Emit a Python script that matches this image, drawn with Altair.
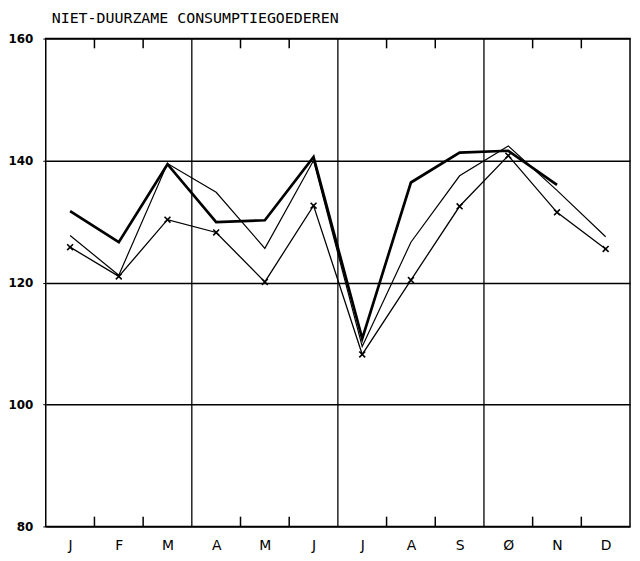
import altair as alt
import pandas as pd

months = ["J", "F", "M", "A", "M", "J", "J", "A", "S", "Ø", "N", "D"]
thick_vals = [131.7, 126.6, 139.4, 129.9, 130.2, 140.6, 110.8, 136.4, 141.3, 141.6, 136.0, None]
thin_vals = [127.7, 121.2, 139.5, 134.8, 125.6, 140.0, 109.5, 126.6, 137.5, 142.4, 135.1, 127.5]
cross_vals = [125.8, 121.0, 130.3, 128.2, 120.1, 132.6, 108.2, 120.4, 132.5, 140.8, 131.5, 125.5]
y_ticks = [80, 100, 120, 140, 160]
minor_bounds = [0.5, 1.5, 3.5, 4.5, 6.5, 7.5, 9.5, 10.5]
quarter_bounds = [2.5, 5.5, 8.5]

W, H = 588, 491

def frame(vals):
    return pd.DataFrame([{"i": k, "v": v} for k, v in enumerate(vals) if v is not None])

label_expr = "[" + ",".join("'" + m + "'" for m in months) + "][datum.value]"

X = alt.X("i:Q",
          scale=alt.Scale(domain=[-0.5, 11.5], nice=False, zero=False),
          axis=alt.Axis(values=list(range(12)), labelExpr=label_expr, title=None,
                        grid=False, domain=False, ticks=False, labelFontSize=14,
                        labelFont="DejaVu Sans", labelColor="black", labelPadding=12))
Y = alt.Y("v:Q",
          scale=alt.Scale(domain=[80, 160], nice=False, zero=False),
          axis=alt.Axis(values=y_ticks, title=None, grid=True, gridColor="black",
                        gridWidth=1.5, gridOpacity=1, domain=False, ticks=True,
                        tickSize=3, tickColor="black", labelFontSize=12,
                        labelFontWeight="bold", labelFont="DejaVu Sans",
                        labelColor="black", labelPadding=10))

thick = alt.Chart(frame(thick_vals)).mark_line(color="black", strokeWidth=2.7).encode(x=X, y=Y)
thin = alt.Chart(frame(thin_vals)).mark_line(color="black", strokeWidth=1.2).encode(x=X, y=Y)
cross_line = alt.Chart(frame(cross_vals)).mark_line(color="black", strokeWidth=1.3).encode(x=X, y=Y)
cross_pts = alt.Chart(frame(cross_vals)).mark_point(
    shape="M-1,-1L1,1M-1,1L1,-1", filled=False, color="black", strokeWidth=1.6, size=35, opacity=1
).encode(x=X, y=Y)

minor_df = pd.DataFrame({"i": minor_bounds})
top_ticks = alt.Chart(minor_df).mark_rule(color="black", strokeWidth=1.5).encode(
    x=X, y=alt.datum(160), y2=alt.datum(158.4))
bot_ticks = alt.Chart(minor_df).mark_rule(color="black", strokeWidth=1.5).encode(
    x=X, y=alt.datum(80), y2=alt.datum(81.6))
quarters = alt.Chart(pd.DataFrame({"i": quarter_bounds})).mark_rule(color="black", strokeWidth=1.3).encode(
    x=X, y=alt.datum(80), y2=alt.datum(160))

chart = alt.layer(quarters, top_ticks, bot_ticks, thin, cross_line, cross_pts, thick).properties(
    width=W, height=H,
    title=alt.TitleParams("NIET-DUURZAME CONSUMPTIEGOEDEREN", anchor="start", frame="group",
                          font="DejaVu Sans Mono", fontSize=15, fontWeight="normal",
                          color="black", dx=6, offset=7),
    autosize=alt.AutoSizeParams(type="none"),
    padding={"left": 38, "top": 29, "right": 2, "bottom": 30},
    background="white",
).configure_view(stroke="black", strokeWidth=1.5)

chart.save("out.html", embed_options={"renderer": "svg", "actions": False})
